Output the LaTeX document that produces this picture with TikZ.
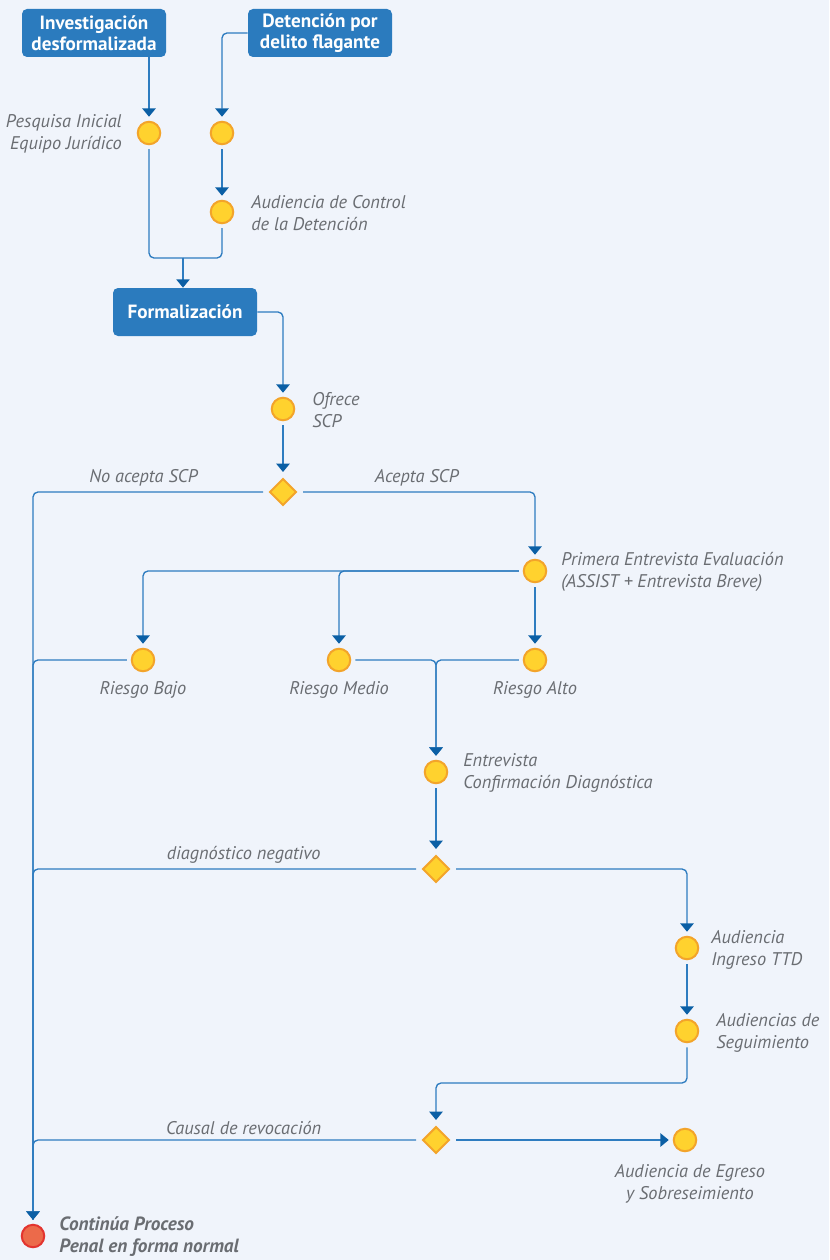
\documentclass[tikz,border=0pt]{standalone}
\usepackage{fontspec}
\setmainfont{PT Sans}
\usetikzlibrary{arrows.meta,shapes.geometric}
\definecolor{bgblue}{HTML}{F0F4FB}
\definecolor{boxblue}{HTML}{2B7BBE}
\definecolor{lineblue}{HTML}{2E7CC0}
\definecolor{tipblue}{HTML}{0B5FA5}
\definecolor{dotyellow}{HTML}{FFD22E}
\definecolor{dotorange}{HTML}{F3A42A}
\definecolor{endred}{HTML}{EC6A4A}
\definecolor{endborder}{HTML}{E3342F}
\definecolor{labelgray}{HTML}{6A6D72}
\begin{document}
\begin{tikzpicture}[x=0.6pt, y=-0.6pt, >={Triangle[width=8pt,length=5pt,color=tipblue]},
  box/.style={rectangle, rounded corners=3pt, fill=boxblue, text=white, font=\bfseries\fontsize{11.5}{12.5}\selectfont, align=center, minimum width=86.4pt, minimum height=28.8pt, inner sep=2pt},
  main node/.style={circle, fill=dotyellow, draw=dotorange, line width=1.2pt, minimum size=13.5pt, inner sep=0pt, outer sep=3pt},
  end node/.style={main node, fill=endred, draw=endborder},
  dec node/.style={diamond, fill=dotyellow, draw=dotorange, line width=1.2pt, minimum size=18pt, inner sep=0pt, outer sep=3pt},
  lbl/.style={font=\itshape\fontsize{11}{13.2}\selectfont, text=labelgray, align=left, inner sep=0pt},
  edge lbl/.style={lbl, above, inner sep=3pt},
  flow/.style={draw=lineblue, line width=0.8pt, rounded corners=3pt}]
\fill[bgblue] (0,0) rectangle (829,1260);
\useasboundingbox (0,0) rectangle (829,1260);
% boxes
\node [box](b1) at (94,33) {Investigación\\desformalizada};
\node [box](b2) at (320,33) {Detención por\\delito flagante};
\node [box](f) at (185,312) {Formalización};
% steps
\node [main node](c1) at (149,133) {};
\node [main node](c2) at (222,133) {};
\node [main node](c3) at (222,212) {};
\node [main node](o) at (283,409) {};
\node [dec node](d1) at (283,492) {};
\node [main node](p1) at (535,571) {};
\node [main node](rb) at (143,660) {};
\node [main node](rm) at (339,660) {};
\node [main node](ra) at (535,660) {};
\node [main node](e) at (436,772) {};
\node [dec node](d2) at (436,869) {};
\node [main node](at) at (687,948) {};
\node [main node](as) at (687,1031) {};
\node [dec node](d3) at (436,1140) {};
\node [main node](eg) at (685,1140) {};
\node [end node](red) at (33,1236) {};
\coordinate (j1) at (183,258);
\coordinate (j2) at (436,1083);
% labels
\node [lbl, anchor=east, align=right](lpesq) at (122,134) {Pesquisa Inicial\\Equipo Jurídico};
\node [lbl, anchor=west](lctrl) at (251,213) {Audiencia de Control\\de la Detención};
\node [lbl, anchor=west](lofr) at (312,410) {Ofrece\\SCP};
\node [lbl, anchor=west](lprim) at (561,572) {Primera Entrevista Evaluación\\(ASSIST + Entrevista Breve)};
\node [lbl](lrb) at (143,690) {Riesgo Bajo};
\node [lbl](lrm) at (339,690) {Riesgo Medio};
\node [lbl](lra) at (535,690) {Riesgo Alto};
\node [lbl, anchor=west](lent) at (463,773) {Entrevista\\Confirmación Diagnóstica};
\node [lbl, anchor=west](ling) at (711,950) {Audiencia\\Ingreso TTD};
\node [lbl, anchor=west](lseg) at (716,1033) {Audiencias de\\Seguimiento};
\node [lbl, align=center](legr) at (690,1184) {Audiencia de Egreso\\y Sobreseimiento};
\node [lbl, anchor=west, font=\bfseries\itshape\fontsize{11.5}{13.2}\selectfont](lend) at (59,1237) {Continúa Proceso\\Penal en forma normal};
% connectors
\draw [flow,->] (b1.south -| c1) -- (c1);
\draw [flow,->] (b2) -| (c2);
\draw [flow,->] (c2) -- (c3);
\draw [flow] (c1) |- (j1);
\draw [flow] (c3) |- (j1);
\draw [flow,->] (j1) -- (j1 |- f.north);
\draw [flow,->] (f) -| (o);
\draw [flow,->] (o) -- (d1);
\draw [flow,->] (d1) -| node[edge lbl, pos=0.26]{No acepta SCP} (red);
\draw [flow,->] (d1) -| node[edge lbl, pos=0.245]{Acepta SCP} (p1);
\draw [flow,->] (p1) -| (rb);
\draw [flow,->] (p1) -| (rm);
\draw [flow,->] (p1) -- (ra);
\draw [flow] (rb) -| (red);
\draw [flow,->] (rm) -| (e);
\draw [flow,->] (ra) -| (e);
\draw [flow,->] (e) -- (d2);
\draw [flow] (d2) -| node[edge lbl, pos=0.225]{diagnóstico negativo} (red);
\draw [flow,->] (d2) -| (at);
\draw [flow,->] (at) -- (as);
\draw [flow,->] (as) |- (j2) -- (d3);
\draw [flow,->] (d3) -| node[edge lbl, pos=0.225]{Causal de revocación} (red);
\draw [flow,->] (d3) -- (eg);
\end{tikzpicture}
\end{document}
